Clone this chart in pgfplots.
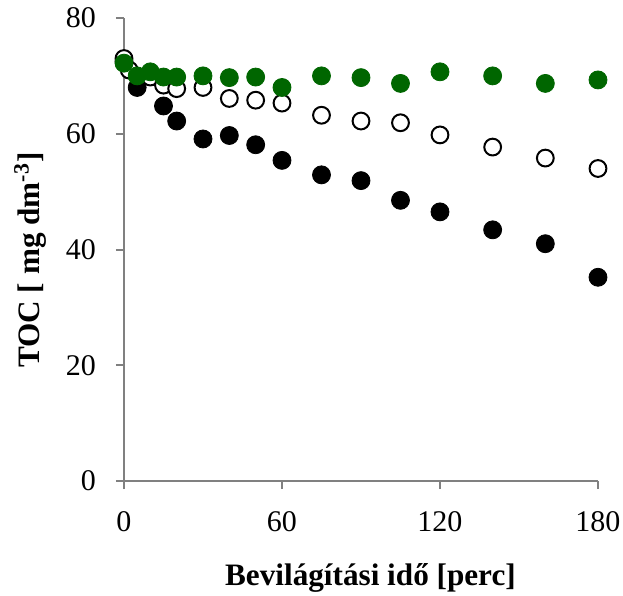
\documentclass[border=0pt]{standalone}
\usepackage{fontspec}
\setmainfont{Liberation Serif}
\usepackage{pgfplots}
\pgfplotsset{compat=1.18}
\definecolor{dgreen}{RGB}{0,102,0}
\definecolor{axgray}{RGB}{128,128,128}
\begin{document}
\begin{tikzpicture}
\useasboundingbox (-62pt,-57.5pt) rectangle (249.5pt,240.5pt);
\begin{axis}[
  at={(0,0)}, anchor=south west,
  scale only axis, width=237pt, height=231.5pt,
  xmin=0, xmax=180, ymin=0, ymax=80,
  xtick={0,60,120,180}, ytick={0,20,40,60,80},
  axis lines=left,
  axis line style={-, draw=axgray, line width=1pt},
  tick style={draw=axgray, line width=1pt},
  tick align=outside, major tick length=4pt,
  /pgf/number format/assume math mode=true,
  tick label style={font=\fontsize{15}{18}\selectfont},
  xticklabel style={yshift=-7.5pt},
  yticklabel style={xshift=-6.5pt},
  label style={font=\bfseries\fontsize{15.6}{18}\selectfont},
  xlabel={Bevilágítási idő [perc]},
  ylabel={TOC [ mg dm\textsuperscript{-3}]},
  xlabel style={at={(rel axis cs:0.52,-0.2095)}, anchor=center},
  ylabel style={at={(rel axis cs:-0.198,0.477)}, anchor=center, rotate=0},
  clip=false,
]
\addplot[only marks, mark=*, mark size=4.5pt, mark options={fill=black, draw=black}] coordinates {
(0,72.5) (5,68.0) (15,64.8) (20,62.2) (30,59.1) (40,59.7) (50,58.1) (60,55.4)
(75,52.9) (90,51.9) (105,48.5) (120,46.5) (140,43.4) (160,41.0) (180,35.2)
};
\addplot[only marks, mark=*, mark size=4.2pt, mark options={fill=white, draw=black, line width=1pt}] coordinates {
(0,73.0) (2,71.0) (10,69.8) (15,68.4) (20,67.8) (30,68.0) (40,66.1) (50,65.8) (60,65.3)
(75,63.2) (90,62.2) (105,61.9) (120,59.8) (140,57.7) (160,55.8) (180,54.0)
};
\addplot[only marks, mark=*, mark size=4.5pt, mark options={fill=dgreen, draw=dgreen}] coordinates {
(0,72.2) (5,70.0) (10,70.7) (15,69.8) (20,69.8) (30,70.0) (40,69.7) (50,69.8) (60,68.0)
(75,70.0) (90,69.7) (105,68.7) (120,70.7) (140,70.0) (160,68.7) (180,69.3)
};
\end{axis}
\end{tikzpicture}
\end{document}
